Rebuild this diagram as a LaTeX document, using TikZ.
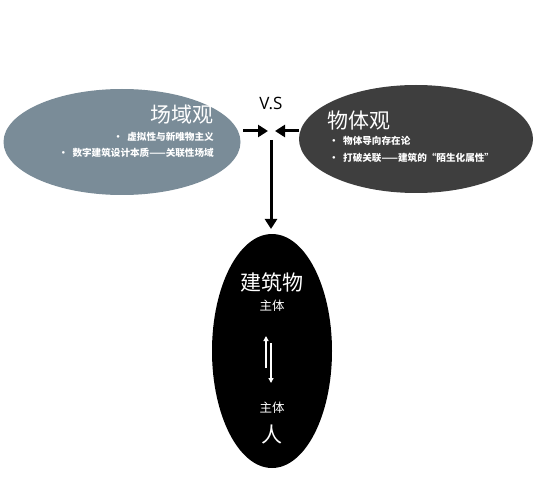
\documentclass[tikz,border=0pt]{standalone}
\usepackage{fontspec}
\setmainfont{Noto Sans CJK SC}
\newfontfamily\cjk{Noto Sans CJK SC}
\usetikzlibrary{shapes.geometric,arrows.meta}
\definecolor{slate}{HTML}{7A8C98}
\definecolor{darkg}{HTML}{3E3E3E}
\tikzset{
  blob/.style={ellipse, inner sep=0pt},
  ttl/.style={text=white, font=\cjk\fontsize{21}{21}\selectfont, inner sep=0pt},
  itm/.style={text=white, font=\cjk\bfseries\fontsize{9.6}{10}\selectfont, inner sep=0pt},
  sml/.style={text=white, font=\cjk\fontsize{12.5}{13}\selectfont, inner sep=0pt},
  bigarr/.style={line width=3pt, -{Triangle[length=10pt,width=12pt]}},
  thinarr/.style={white, line width=1.2pt, -{Triangle[length=5pt,width=5pt]}}
}
\begin{document}
\begin{tikzpicture}[x=1pt,y=-1pt]
\useasboundingbox[fill=white] (0,0) rectangle (552,500);
\node[blob, fill=slate, minimum width=237pt, minimum height=106pt] (L) at (122,142) {};
\node[blob, fill=darkg, minimum width=234pt, minimum height=108pt] (R) at (416,139) {};
\node[blob, fill=black, minimum width=120pt, minimum height=234pt] (B) at (272,351) {};

\node[ttl, anchor=east] (Lt) at (214,115) {场域观};
\node[itm, anchor=east] (L1) at (214,137) {·\ \ 虚拟性与新唯物主义};
\node[itm, anchor=east] (L2) at (214,153) {·\ \ 数字建筑设计本质——关联性场域};

\node[ttl, anchor=west] (Rt) at (327,121) {物体观};
\node[itm, anchor=west] (R1) at (329,141) {·\ \ 物体导向存在论};
\node[itm, anchor=west] (R2) at (329,158) {·\ \ 打破关联——建筑的“陌生化属性”};

\node[inner sep=0pt, font=\fontspec{Open Sans}\fontsize{17}{17}\selectfont] (vs) at (271,103) {V.S};

\coordinate (la) at (243,131);
\coordinate (lb) at (268,131);
\coordinate (ra) at (299,131);
\coordinate (rb) at (275,131);
\coordinate (da) at (271,140);
\coordinate (db) at (271,229);
\draw[bigarr] (la) -- (lb);
\draw[bigarr] (ra) -- (rb);
\draw[bigarr] (da) -- (db);

\node[ttl] (b1) at (272,282) {建筑物};
\node[sml] (b2) at (272,306) {主体};
\node[sml] (b3) at (272,408) {主体};
\node[ttl] (b4) at (272,435) {人};
\coordinate (ua) at (266,368);
\coordinate (ub) at (266,336);
\coordinate (wa) at (271,343);
\coordinate (wb) at (271,383);
\draw[thinarr] (ua) -- (ub);
\draw[thinarr] (wa) -- (wb);
\end{tikzpicture}
\end{document}
